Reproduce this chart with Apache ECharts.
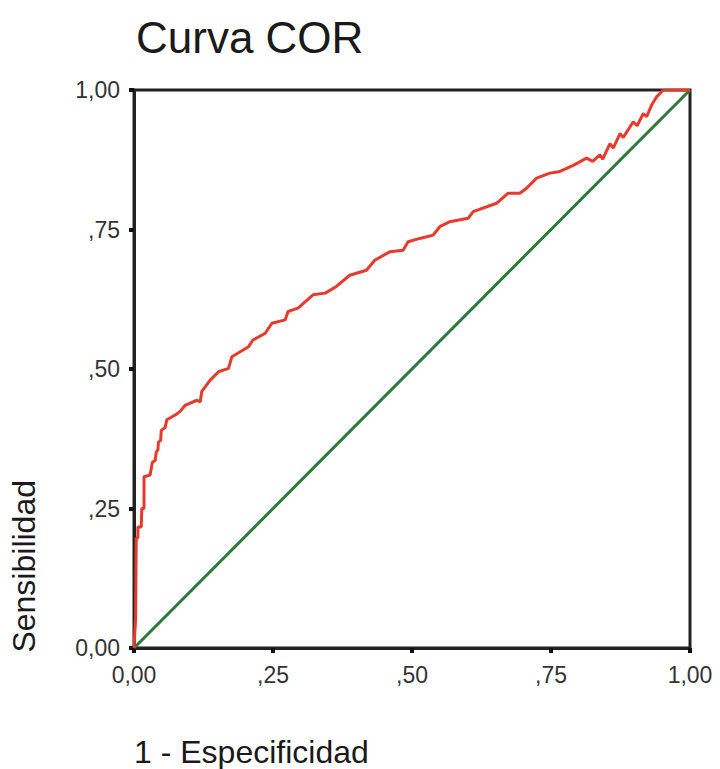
<!DOCTYPE html>
<html>
<head>
<meta charset="utf-8">
<script src="https://cdn.jsdelivr.net/npm/echarts@6/dist/echarts.min.js"></script>
<style>
html,body{margin:0;padding:0;background:#fff;}
#chart{width:720px;height:769px;}
</style>
</head>
<body>
<div id="chart"></div>
<script>
var titleText = 'Curva COR';
var xAxisName = '1 - Especificidad';
var yAxisName = 'Sensibilidad';
var tickLabels = ['0,00', ',25', ',50', ',75', '1,00'];
var tickValues = [0, 0.25, 0.5, 0.75, 1];

// ROC curve points [1 - specificity, sensitivity]
var rocX = [0, 0.003, 0.004, 0.007, 0.007, 0.013, 0.014, 0.018, 0.018, 0.029, 0.033, 0.038, 0.040, 0.043, 0.044, 0.048, 0.049, 0.056, 0.059, 0.075, 0.083, 0.092, 0.113, 0.119, 0.122, 0.137, 0.152, 0.170, 0.176, 0.191, 0.206, 0.214, 0.236, 0.248, 0.272, 0.277, 0.295, 0.322, 0.344, 0.364, 0.388, 0.418, 0.433, 0.460, 0.484, 0.493, 0.514, 0.538, 0.550, 0.568, 0.601, 0.610, 0.652, 0.673, 0.694, 0.706, 0.724, 0.748, 0.766, 0.790, 0.814, 0.825, 0.838, 0.843, 0.856, 0.862, 0.874, 0.880, 0.898, 0.905, 0.916, 0.922, 0.931, 0.940, 0.952, 1];
var rocY = [0, 0.054, 0.197, 0.197, 0.217, 0.217, 0.250, 0.250, 0.307, 0.310, 0.333, 0.336, 0.351, 0.355, 0.369, 0.372, 0.390, 0.395, 0.409, 0.418, 0.424, 0.435, 0.444, 0.441, 0.460, 0.480, 0.495, 0.501, 0.522, 0.531, 0.540, 0.552, 0.564, 0.582, 0.588, 0.603, 0.609, 0.633, 0.636, 0.648, 0.668, 0.677, 0.695, 0.710, 0.713, 0.728, 0.734, 0.740, 0.755, 0.764, 0.770, 0.782, 0.797, 0.815, 0.815, 0.824, 0.842, 0.851, 0.854, 0.865, 0.878, 0.872, 0.884, 0.876, 0.904, 0.896, 0.922, 0.915, 0.943, 0.936, 0.958, 0.952, 0.973, 0.988, 1.000, 1];

// Reference diagonal
var diagX = [0, 1];
var diagY = [0, 1];

function zip(a, b) { return a.map(function (v, i) { return [v, b[i]]; }); }
function fmt(v) {
  for (var i = 0; i < tickValues.length; i++) if (Math.abs(v - tickValues[i]) < 1e-6) return tickLabels[i];
  return '';
}

var chart = echarts.init(document.getElementById('chart'), null, {renderer: 'svg'});
var font = "'Liberation Sans', Arial, Helvetica, sans-serif";
chart.setOption({
  animation: false,
  backgroundColor: '#ffffff',
  title: {
    text: titleText,
    left: 131, top: 10,
    textStyle: {fontFamily: font, fontSize: 44, fontWeight: 'normal', color: '#1a1a1a'}
  },
  grid: {left: 134, top: 90, width: 556, height: 558, show: true, borderColor: '#222', borderWidth: 3, backgroundColor: 'transparent'},
  xAxis: {
    type: 'value', min: 0, max: 1, interval: 0.25,
    name: xAxisName, nameLocation: 'start', nameGap: 0,
    nameTextStyle: {fontFamily: font, fontSize: 32, color: '#1a1a1a', align: 'left', verticalAlign: 'top', padding: [88, 0, 0, 0]},
    axisLine: {show: true, onZero: false, lineStyle: {color: '#222', width: 3}},
    axisTick: {show: true, inside: false, length: 5, lineStyle: {color: '#111', width: 4}},
    axisLabel: {fontFamily: font, fontSize: 23, color: '#333', margin: 15, formatter: fmt, showMinLabel: true, showMaxLabel: true},
    splitLine: {show: false}
  },
  yAxis: {
    type: 'value', min: 0, max: 1, interval: 0.25,
    axisLine: {show: true, onZero: false, lineStyle: {color: '#222', width: 3}},
    axisTick: {show: true, inside: false, length: 5, lineStyle: {color: '#111', width: 4}},
    axisLabel: {fontFamily: font, fontSize: 23, color: '#333', margin: 14, formatter: fmt, showMinLabel: true, showMaxLabel: true},
    splitLine: {show: false}
  },
  graphic: [{
    type: 'text',
    left: 8, top: 480,
    rotation: Math.PI / 2,
    style: {text: yAxisName, fontFamily: font, fontSize: 32, fill: '#1a1a1a'}
  }],
  series: [{
    type: 'line', data: zip(diagX, diagY), showSymbol: false, symbol: 'none',
    lineStyle: {color: '#2b7a3a', width: 3}, z: 2
  }, {
    type: 'line', data: zip(rocX, rocY), showSymbol: false, symbol: 'none',
    lineStyle: {color: '#e53b2c', width: 3}, z: 3
  }]
});
</script>
</body>
</html>
